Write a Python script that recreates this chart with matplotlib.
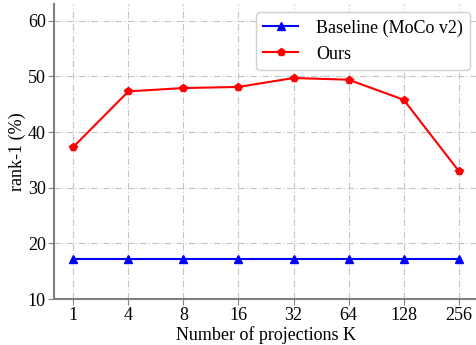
import matplotlib.pyplot as plt

plt.rcParams['font.family'] = ['Liberation Serif', 'DejaVu Serif']

k_labels = ['1', '4', '8', '16', '32', '64', '128', '256']
baseline = [17.1, 17.1, 17.1, 17.1, 17.1, 17.1, 17.1, 17.1]
ours = [37.3, 47.3, 47.9, 48.1, 49.7, 49.4, 45.8, 33.0]

fig = plt.figure(figsize=(4.76, 3.45), dpi=100)
ax = fig.add_axes([54/476, 46/345, 424/476, 295/345])

x = list(range(len(k_labels)))
ax.plot(x, baseline, color='blue', marker='^', markersize=6, linewidth=1.5,
        label='Baseline (MoCo v2)', zorder=3)
ax.plot(x, ours, color='red', marker='p', markersize=6, linewidth=1.5,
        label='Ours', zorder=3)

ax.set_xticks(x)
ax.set_xticklabels(k_labels)
ax.set_xlim(-0.35, 7.35)
ax.set_ylim(10, 63)
ax.set_yticks([10, 20, 30, 40, 50, 60])

ax.grid(True, linestyle=(0, (6, 2, 1, 2)), color='#c4c4c4', linewidth=0.8)
ax.set_axisbelow(True)

for s in ['top', 'right']:
    ax.spines[s].set_visible(False)
for s in ['left', 'bottom']:
    ax.spines[s].set_color('#808080')
    ax.spines[s].set_linewidth(1.5)

ax.tick_params(axis='both', labelsize=13, color='#808080', length=4, pad=2)
ax.set_xlabel('Number of projections K', fontsize=13, labelpad=1)
ax.set_ylabel('rank-1 (%)', fontsize=13, labelpad=1)

ax.legend(loc='upper right', fontsize=13, handlelength=1.9, handletextpad=1.0,
          framealpha=1, edgecolor='#d0d0d0', borderaxespad=0.45)

fig.savefig('out.png', dpi=100)
